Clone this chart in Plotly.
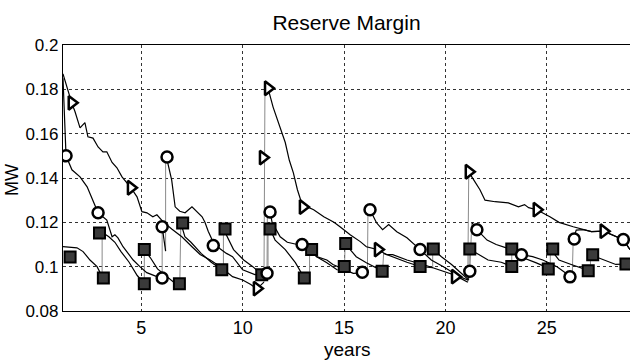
import plotly.graph_objects as go

# ---------------- data ----------------
# None separates the segments of a series; the jumps between segments are drawn in gray
tri_x = [1.14, 1.34, 1.57, 1.73, 1.98, 2.22, 2.37, 2.62, 2.87, 3.11, 3.30, 3.56, 3.80, 4.05, 4.49, 4.79,
         5.03, 5.28, 5.57, 5.77, 6.07, 6.5, 7.0, 7.5, 7.9, 8.4, 8.9, 9.5, 10.0, 10.4, 10.7, 11.05, None,
         11.1, 11.25, 11.5, 11.85, 12.1, 12.3, 12.5, 12.7, 12.85, 12.97, 13.3, 13.5, 14.0, 14.5, 14.8, 15.1,
         15.3, 15.8, 16.1, 16.67, 17.1, 17.4, 18.1, 18.9, 19.7, 20.4, 20.47, 20.8, 21.1, None,
         21.15, 21.3, 21.7, 21.95, 22.45, 23.1, 23.6, 23.9, 24.1, 24.5, 25.15, 25.6, 26.3, 26.8, 27.2, 27.8,
         28.45, 28.77, 29.1]
tri_y = [0.187, 0.1806, 0.1739, 0.170, 0.1626, 0.165, 0.1586, 0.158, 0.154, 0.1518, 0.1518, 0.147, 0.1446,
         0.1405, 0.1356, 0.1315, 0.1248, 0.1243, 0.1225, 0.1234, 0.1203, 0.117, 0.1135, 0.109, 0.1055, 0.103,
         0.100, 0.0955, 0.094, 0.092, 0.090, 0.093, None,
         0.182, 0.1805, 0.172, 0.163, 0.156, 0.148, 0.1423, 0.1347, 0.130, 0.1269, 0.1265, 0.1257, 0.1225,
         0.120, 0.118, 0.1158, 0.1144, 0.1113, 0.109, 0.1077, 0.1054, 0.1054, 0.103, 0.101, 0.0986, 0.0964,
         0.0955, 0.0945, 0.093, None,
         0.143, 0.1405, 0.1347, 0.130, 0.1293, 0.1288, 0.127, 0.128, 0.1266, 0.1257, 0.1225, 0.120, 0.118,
         0.1167, 0.1158, 0.116, 0.1135, 0.1122, 0.1077]

cir_x = [1.14, 1.22, 1.29, 1.58, 1.98, 2.33, 2.62, 2.87, 3.3, 3.56, 3.7, 3.85, 4.1, 4.6, 4.93, 5.27, 5.77, 6.03, None,
         6.03, 6.2, None,
         6.2, 6.3, 6.5, 6.67, 6.9, 7.16, 7.5, 7.75, 8.0, 8.14, 8.3, 8.55, 8.9, 9.2, 9.5, 10.0, 10.6, 11.1, 11.2, None,
         11.22, 11.35, 11.45, 11.85, 12.2, 12.7, 12.93, 13.3, 13.65, 14.15, 14.45, 15.0, 15.45, 15.9, 16.15, None,
         16.18, 16.28, 16.6, 16.9, 17.2, 17.6, 18.1, 18.5, 18.75, 19.3, 19.9, 20.7, 21.1, 21.2, None,
         21.3, 21.55, 22.05, 22.5, 23.0, 23.75, 24.3, 24.8, 25.5, 26.14, 26.25, None,
         26.3, 26.45, 26.8, 27.2, 27.8, 28.45, 28.77, 29.1]
cir_y = [0.185, 0.165, 0.150, 0.1437, 0.1405, 0.136, 0.130, 0.1243, 0.121, 0.1135, 0.1144, 0.113, 0.109, 0.103,
         0.100, 0.0973, 0.0955, 0.0949, None,
         0.118, 0.107, None,
         0.150, 0.147, 0.139, 0.127, 0.125, 0.1243, 0.127, 0.1245, 0.1225, 0.120, 0.116, 0.111, 0.108, 0.106,
         0.1045, 0.0986, 0.0964, 0.097, 0.097, None,
         0.127, 0.1247, 0.120, 0.1135, 0.111, 0.110, 0.110, 0.1077, 0.1045, 0.103, 0.101, 0.0986, 0.097, 0.0972,
         0.097, None,
         0.127, 0.1257, 0.1198, 0.1167, 0.119, 0.1158, 0.113, 0.110, 0.1077, 0.103, 0.100, 0.0955, 0.094, 0.0979, None,
         0.120, 0.1167, 0.112, 0.110, 0.1085, 0.1054, 0.1045, 0.103, 0.100, 0.0954, 0.095, None,
         0.1125, 0.1165, 0.1167, 0.1158, 0.116, 0.1135, 0.1122, 0.1077]

sq_x = [1.14, 1.49, 1.83, 2.13, 2.47, 2.82, 3.07, None,
        3.07, 3.4, 3.7, 4.0, 4.4, 4.8, 5.15, None,
        5.15, 5.45, 5.8, 6.3, 6.6, 6.9, None,
        6.95, 7.15, 7.45, 7.95, 8.45, 8.97, 9.05, None,
        9.05, 9.25, 9.55, 10.05, 10.5, 10.94, 11.25, None,
        11.25, 11.35, 11.6, 12.1, 12.6, 13.04, 13.3, None,
        13.3, 13.65, 14.15, 14.65, 15.02, None,
        15.05, 15.6, 16.1, 16.6, 16.9, None,
        16.95, 17.5, 18.1, 18.75, 19.37, None,
        19.37, 19.8, 20.3, 20.7, 21.15, None,
        21.18, 21.55, 22.1, 22.75, 23.27, None,
        23.27, 23.7, 24.45, 25.17, None,
        25.17, 25.6, 26.2, 27.04, 27.15, None,
        27.15, 27.8, 28.4, 28.9, 29.1]
sq_y = [0.109, 0.1088, 0.1085, 0.1068, 0.103, 0.100, 0.0955, None,
        0.1155, 0.1135, 0.111, 0.1068, 0.102, 0.096, 0.0925, None,
        0.1077, 0.104, 0.099, 0.0955, 0.093, 0.0923, None,
        0.1197, 0.1135, 0.111, 0.106, 0.102, 0.0986, 0.0985, None,
        0.117, 0.1135, 0.1077, 0.103, 0.100, 0.0964, 0.096, None,
        0.118, 0.117, 0.112, 0.1077, 0.1018, 0.0949, 0.094, None,
        0.108, 0.1045, 0.1018, 0.0986, 0.0985, None,
        0.1104, 0.1045, 0.1018, 0.0995, 0.098, None,
        0.106, 0.104, 0.102, 0.1001, 0.0995, None,
        0.108, 0.1045, 0.101, 0.0975, 0.094, None,
        0.108, 0.106, 0.103, 0.102, 0.1001, None,
        0.108, 0.1045, 0.1018, 0.099, None,
        0.108, 0.103, 0.101, 0.0982, 0.098, None,
        0.1054, 0.103, 0.101, 0.1012, 0.100]

tri_mx = [1.57, 4.49, 10.70, 11.0, 11.25, 12.97, 16.67, 20.47, 21.15, 24.5, 27.8]
tri_my = [0.1739, 0.1356, 0.0901, 0.1492, 0.1805, 0.1269, 0.1077, 0.0955, 0.1428, 0.1257, 0.116]

cir_mx = [1.29, 2.87, 6.03, 6.03, 6.27, 8.55, 11.2, 11.35, 12.93, 15.9, 16.28, 18.75, 21.2, 21.55, 23.75,
          26.14, 26.35, 28.77]
cir_my = [0.150, 0.1243, 0.118, 0.0949, 0.1495, 0.1095, 0.097, 0.1247, 0.110, 0.0975, 0.1257, 0.1077, 0.0979,
          0.1167, 0.1054, 0.0954, 0.1125, 0.1122]

sq_mx = [1.49, 2.94, 3.13, 5.15, 5.15, 6.88, 7.04, 8.97, 9.13, 10.94, 11.35, 13.04, 13.4, 15.01, 15.08, 16.88,
         18.75, 19.4, 21.2, 23.27, 23.27, 25.07, 25.29, 27.04, 27.26, 28.9]
sq_my = [0.1044, 0.1152, 0.0949, 0.1077, 0.0923, 0.0923, 0.1197, 0.0986, 0.117, 0.0964, 0.117, 0.0949, 0.1077,
         0.1001, 0.1104, 0.0979, 0.1001, 0.108, 0.108, 0.1001, 0.108, 0.099, 0.108, 0.0982, 0.1054, 0.1012]

x_ticks = [5, 10, 15, 20, 25]
y_ticks = [0.08, 0.1, 0.12, 0.14, 0.16, 0.18, 0.2]
y_ticktext = ["0.08", "0.1", "0.12", "0.14", "0.16", "0.18", "0.2"]

FONT = "Liberation Sans, Arial, sans-serif"


def split_segments(xs, ys):
    segs, cx, cy = [], [], []
    for a, b in zip(xs, ys):
        if a is None:
            segs.append((cx, cy))
            cx, cy = [], []
        else:
            cx.append(a)
            cy.append(b)
    segs.append((cx, cy))
    return segs


def jumps(xs, ys):
    segs = split_segments(xs, ys)
    jx, jy = [], []
    for (ax, ay), (bx, by) in zip(segs[:-1], segs[1:]):
        jx += [ax[-1], bx[0], None]
        jy += [ay[-1], by[0], None]
    return jx, jy


fig = go.Figure()

# gray vertical jumps
for xs, ys in [(tri_x, tri_y), (cir_x, cir_y), (sq_x, sq_y)]:
    jx, jy = jumps(xs, ys)
    fig.add_trace(go.Scatter(x=jx, y=jy, mode="lines", line=dict(color="#8a8a8a", width=1),
                             hoverinfo="skip", showlegend=False))

# black series lines
for xs, ys in [(sq_x, sq_y), (cir_x, cir_y), (tri_x, tri_y)]:
    fig.add_trace(go.Scatter(x=xs, y=ys, mode="lines", line=dict(color="black", width=1.2),
                             connectgaps=False, showlegend=False))

# markers
fig.add_trace(go.Scatter(x=sq_mx, y=sq_my, mode="markers", showlegend=False,
                         marker=dict(symbol="square", size=11, color="#3a3a3a",
                                     line=dict(color="black", width=2))))
fig.add_trace(go.Scatter(x=cir_mx, y=cir_my, mode="markers", showlegend=False,
                         marker=dict(symbol="circle", size=11, color="white",
                                     line=dict(color="black", width=2.5))))
fig.add_trace(go.Scatter(x=tri_mx, y=tri_my, mode="markers", showlegend=False,
                         marker=dict(symbol="triangle-right", size=12, color="white",
                                     line=dict(color="black", width=2.5))))

fig.update_layout(
    width=630, height=360,
    margin=dict(l=63, r=0, t=45, b=49),
    paper_bgcolor="white", plot_bgcolor="white",
    font=dict(family=FONT, color="black", size=17),
    title=dict(text="Reserve Margin", x=0.55, xref="container", xanchor="center",
               y=1 - 23 / 360, yref="container", yanchor="middle",
               font=dict(family=FONT, size=21, color="black")),
    xaxis=dict(range=[1.14, 29.1], tickvals=x_ticks, ticktext=[str(v) for v in x_ticks],
               showgrid=True, gridcolor="#333", griddash="dot", gridwidth=1,
               showline=True, mirror=True, linecolor="black", linewidth=1.2,
               ticks="", zeroline=False, tickfont=dict(size=18)),
    yaxis=dict(range=[0.08, 0.2], tickvals=y_ticks, ticktext=y_ticktext,
               showgrid=True, gridcolor="#333", griddash="dot", gridwidth=1,
               showline=True, mirror=True, linecolor="black", linewidth=1.2,
               ticks="", zeroline=False, tickfont=dict(size=17)),
    annotations=[
        dict(text="years", x=(347 - 63) / 567, y=(311 - 349) / 266, xref="paper", yref="paper",
             xanchor="center", yanchor="middle", showarrow=False, font=dict(size=19)),
        dict(text="MW", x=(12 - 63) / 567, y=(311 - 180) / 266, xref="paper", yref="paper",
             xanchor="center", yanchor="middle", textangle=-90, showarrow=False, font=dict(size=18)),
    ],
)

fig.write_html("out.html")
